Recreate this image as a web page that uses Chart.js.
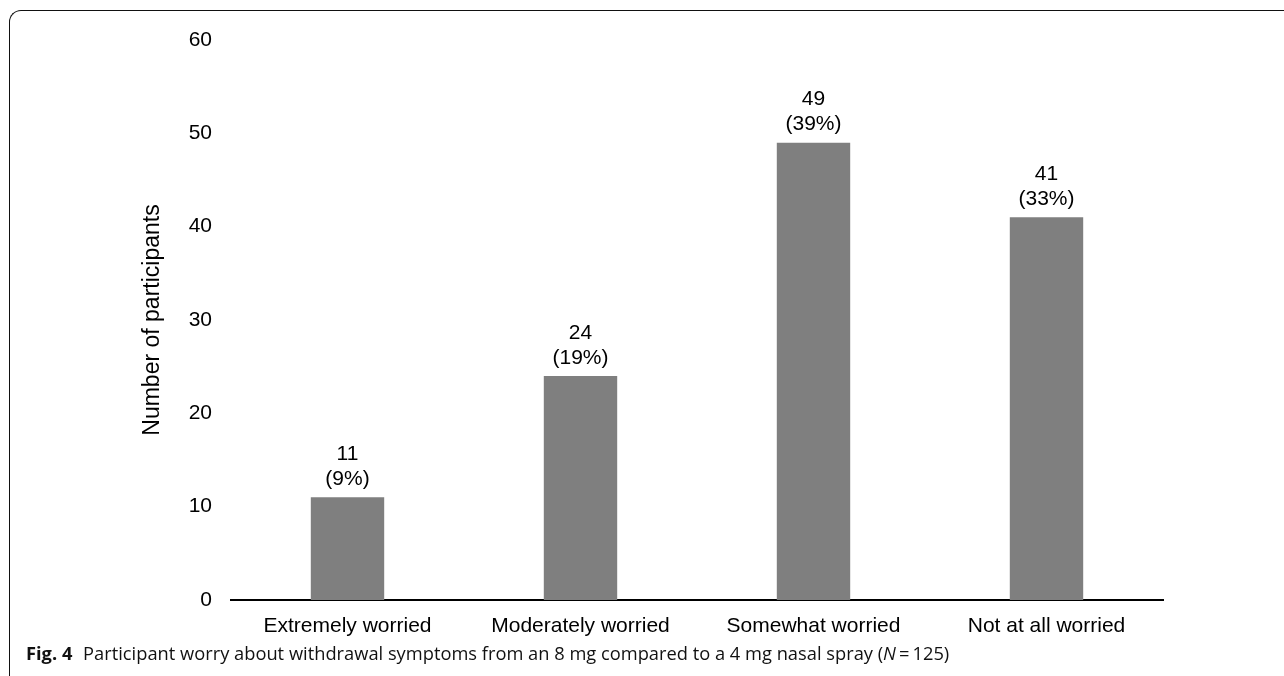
<!DOCTYPE html>
<html>
<head>
<meta charset="utf-8">
<script src="https://cdn.jsdelivr.net/npm/chart.js@4"></script>
<style>
  html, body { margin: 0; padding: 0; background: #fff; }
  #wrap { position: relative; width: 1284px; height: 676px; overflow: hidden; }
  #frame {
    position: absolute; left: 9px; top: 10px; width: 1400px; height: 800px;
    border-left: 1.5px solid #111; border-top: 1.5px solid #111;
    border-top-left-radius: 12px;
  }
  #chartBox { position: absolute; left: 0; top: 0; width: 1284px; height: 676px; }
  #caption {
    position: absolute; left: 26px; top: 640px; white-space: nowrap;
    font-family: "Open Sans", "Noto Sans", sans-serif; font-size: 18.3px; color: #111;
  }
  #caption b { font-weight: 700; margin-right: 6px; }
</style>
</head>
<body>
<div id="wrap">
  <div id="frame"></div>
  <div id="chartBox"><canvas id="myChart"></canvas></div>
  <div id="caption"><b>Fig. 4</b> Participant worry about withdrawal symptoms from an 8 mg compared to a 4 mg nasal spray (<i>N</i>&#8201;=&#8201;125)</div>
</div>
<script>
const categories = ["Extremely worried", "Moderately worried", "Somewhat worried", "Not at all worried"];
const counts = [11, 24, 49, 41];
const percents = ["9%", "19%", "39%", "33%"];
const yTicks = [0, 10, 20, 30, 40, 50, 60];

const labelFont = "21px 'Liberation Sans', Arial, sans-serif";

// count + percentage above each bar
const barLabels = {
    id: "barLabels",
    afterDatasetsDraw(chart) {
        const ctx = chart.ctx;
        const meta = chart.getDatasetMeta(0);
        ctx.save();
        ctx.font = labelFont;
        ctx.fillStyle = "#000";
        ctx.textAlign = "center";
        ctx.textBaseline = "middle";
        meta.data.forEach((bar, i) => {
            ctx.fillText(String(counts[i]), bar.x, bar.y - 43);
            ctx.fillText("(" + percents[i] + ")", bar.x, bar.y - 18);
        });
        ctx.restore();
    },
};

const ctx = document.getElementById("myChart").getContext("2d");
const myChart = new Chart(ctx, {
    type: "bar",
    data: {
        labels: categories,
        datasets: [
            {
                data: counts,
                backgroundColor: "#7f7f7f",
                borderWidth: 0,
                barPercentage: 0.315,
                categoryPercentage: 1,
            },
        ],
    },
    options: {
        responsive: true,
        maintainAspectRatio: false,
        animation: false,
        layout: { padding: { top: 40, right: 121, left: 0, bottom: 0 } },
        plugins: {
            legend: { display: false },
            tooltip: { enabled: false },
        },
        scales: {
            x: {
                grid: { display: false, drawTicks: false },
                border: { display: true, color: "#000", width: 2 },
                ticks: {
                    color: "#000",
                    padding: 14,
                    maxRotation: 0,
                    font: { family: "'Liberation Sans', Arial, sans-serif", size: 21 },
                },
                afterFit(scale) { scale.height = 76; },
            },
            y: {
                min: yTicks[0],
                max: yTicks[yTicks.length - 1],
                afterBuildTicks(scale) { scale.ticks = yTicks.map((v) => ({ value: v })); },
                grid: { display: false, drawTicks: false },
                border: { display: false },
                ticks: {
                    color: "#000",
                    padding: 19,
                    font: { family: "'Liberation Sans', Arial, sans-serif", size: 21 },
                },
                title: {
                    display: true,
                    text: "Number of participants",
                    color: "#000",
                    padding: { top: 139, bottom: 0 },
                    font: { family: "'Liberation Sans', Arial, sans-serif", size: 23 },
                },
                afterFit(scale) { scale.width = 231; },
            },
        },
    },
    plugins: [barLabels],
});
</script>
</body>
</html>
